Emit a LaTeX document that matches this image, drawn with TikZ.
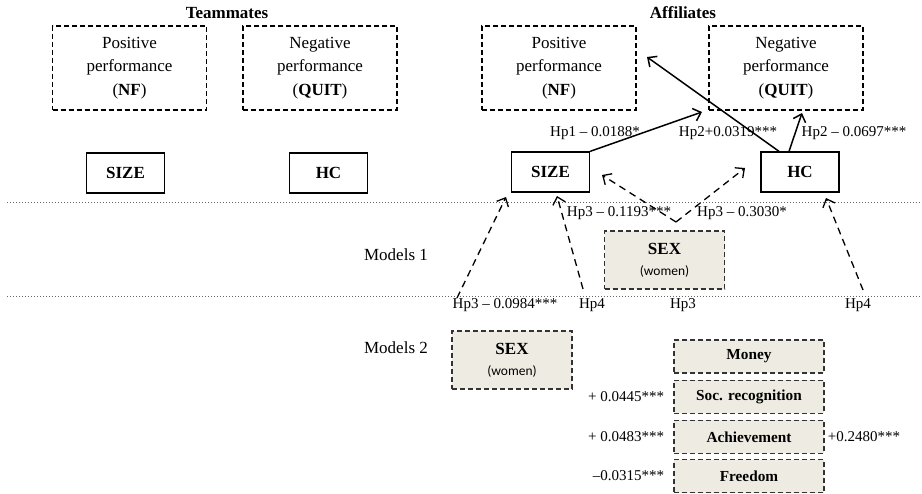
\documentclass[tikz,border=0pt]{standalone}
\usepackage{fontspec}
\setmainfont{Liberation Serif}
\newfontfamily\calibrifont{Carlito}
\usepackage{xcolor}
\usetikzlibrary{arrows.meta,
                positioning}
\definecolor{sexbeige}{RGB}{238,236,226}
\tikzstyle{arrow} = [line width=1.5pt,-{Straight Barb[length=7pt,width=13pt]}]
\tikzstyle{dashedarrow} = [line width=1.3pt,dash pattern=on 7pt off 5pt,-{Straight Barb[length=7pt,width=13pt]}]
\tikzstyle{outbox} = [draw,dash pattern=on 5pt off 3pt,line width=1.1pt,minimum width=154pt,minimum height=84pt,align=center,font=\fontsize{17}{23.5}\selectfont]
\tikzstyle{varbox} = [draw,line width=1.3pt,minimum width=78pt,minimum height=40pt,font=\fontsize{17}{20}\selectfont\bfseries]
\tikzstyle{sexbox} = [draw=black!80,fill=sexbeige,dash pattern=on 5pt off 3pt,line width=1.2pt,minimum width=120pt,minimum height=58pt,align=center,font=\fontsize{17}{21}\selectfont]
\tikzstyle{motbox} = [draw=black!80,fill=sexbeige,dash pattern=on 5pt off 3pt,line width=1.2pt,minimum width=150pt,minimum height=33pt,font=\fontsize{15.3}{18}\selectfont\bfseries]
\tikzstyle{lbl} = [font=\fontsize{15}{18}\selectfont,inner sep=1pt]
\tikzstyle{sep} = [dotted,line width=1pt,black!60]

\begin{document}
\begin{tikzpicture}[x=1pt,y=-1pt]
        \useasboundingbox (0,0) rectangle (922,494);

        % headers
        \node[font=\fontsize{17}{20}\selectfont\bfseries] (teammates) at (227,13) {Teammates};
        \node[font=\fontsize{17}{20}\selectfont\bfseries] (affiliates) at (683,13) {Affiliates};

        % outcomes
        \node[outbox] (tnf) at (129.5,68) {Positive\\performance\\(\textbf{NF})};
        \node[outbox] (tquit) at (320,68) {Negative\\performance\\(\textbf{QUIT})};
        \node[outbox] (anf) at (559,68) {Positive\\performance\\(\textbf{NF})};
        \node[outbox] (aquit) at (786,68) {Negative\\performance\\(\textbf{QUIT})};

        % size and hc
        \node[varbox] (tsize) at (125.5,173) {SIZE};
        \node[varbox] (thc) at (328.5,173) {HC};
        \node[varbox] (asize) at (550.5,172) {SIZE};
        \node[varbox] (ahc) at (800,172) {HC};

        % separators
        \draw[sep] (7,203) -- (922,203);
        \draw[sep] (7,297) -- (922,297);

        \node[font=\fontsize{17}{20}\selectfont] (models1) at (396,255) {Models 1};
        \node[font=\fontsize{17}{20}\selectfont] (models2) at (396,348) {Models 2};

        % sex boxes
        \node[sexbox] (sex1) at (664.5,260) {\textbf{SEX}\\{\calibrifont\fontsize{13.5}{16}\selectfont(women)}};
        \node[sexbox] (sex2) at (512,360) {\textbf{SEX}\\{\calibrifont\fontsize{13.5}{16}\selectfont(women)}};

        % motivations
        \node[motbox] (money) at (749,356.5) {Money};
        \node[motbox] (soc)[below=6pt of money] {Soc. recognition};
        \node[motbox] (ach)[below=6pt of soc] {Achievement};
        \node[motbox] (free)[below=5pt of ach] {Freedom};
        \node[lbl,anchor=east] (vsoc)[left=8pt of soc] {+ 0.0445***};
        \node[lbl,anchor=east] (vach)[left=8pt of ach] {+ 0.0483***};
        \node[lbl,anchor=east] (vfree)[left=8pt of free] {--0.0315***};
        \node[lbl] (vach2)[right=2pt of ach] {+0.2480***};

        % solid paths
        \coordinate (p1) at (702,112);
        \coordinate (p2) at (647,57);
        \coordinate (p3) at (802,113);
        \draw[arrow] (asize.north east) -- (p1);
        \draw[arrow] ([xshift=-21pt]ahc.north) -- (p2);
        \draw[arrow] ([xshift=-11pt]ahc.north) -- (p3);
        \node[lbl] (hp1) at (595,133) {Hp1 -- 0.0188*};
        \node[lbl] (hp2a) at (728,133) {Hp2+0.0319***};
        \node[lbl] (hp2b) at (854,133) {Hp2 -- 0.0697***};

        % dashed paths
        \coordinate (v) at (676,222);
        \coordinate (d1) at (602,175);
        \coordinate (d2) at (745,168);
        \draw[dashedarrow] (v) -- (d1);
        \draw[dashedarrow] (v) -- (d2);
        \node[lbl] (hp3a) at (619,213) {Hp3 -- 0.1193***};
        \node[lbl] (hp3b) at (742,213) {Hp3 -- 0.3030*};

        \coordinate (s1) at (457,298);
        \coordinate (e1) at (506,197);
        \coordinate (s2) at (583,289);
        \coordinate (e2) at (557,196);
        \coordinate (s3) at (863,290);
        \coordinate (e3) at (826,198);
        \draw[dashedarrow] (s1) -- (e1);
        \draw[dashedarrow] (s2) -- (e2);
        \draw[dashedarrow] (s3) -- (e3);
        \node[lbl] (hp3c) at (505,305) {Hp3 -- 0.0984***};
        \node[lbl] (hp4a) at (592,305) {Hp4};
        \node[lbl] (hp3d) at (683,305) {Hp3};
        \node[lbl] (hp4b) at (858,305) {Hp4};
    \end{tikzpicture}
\end{document}
